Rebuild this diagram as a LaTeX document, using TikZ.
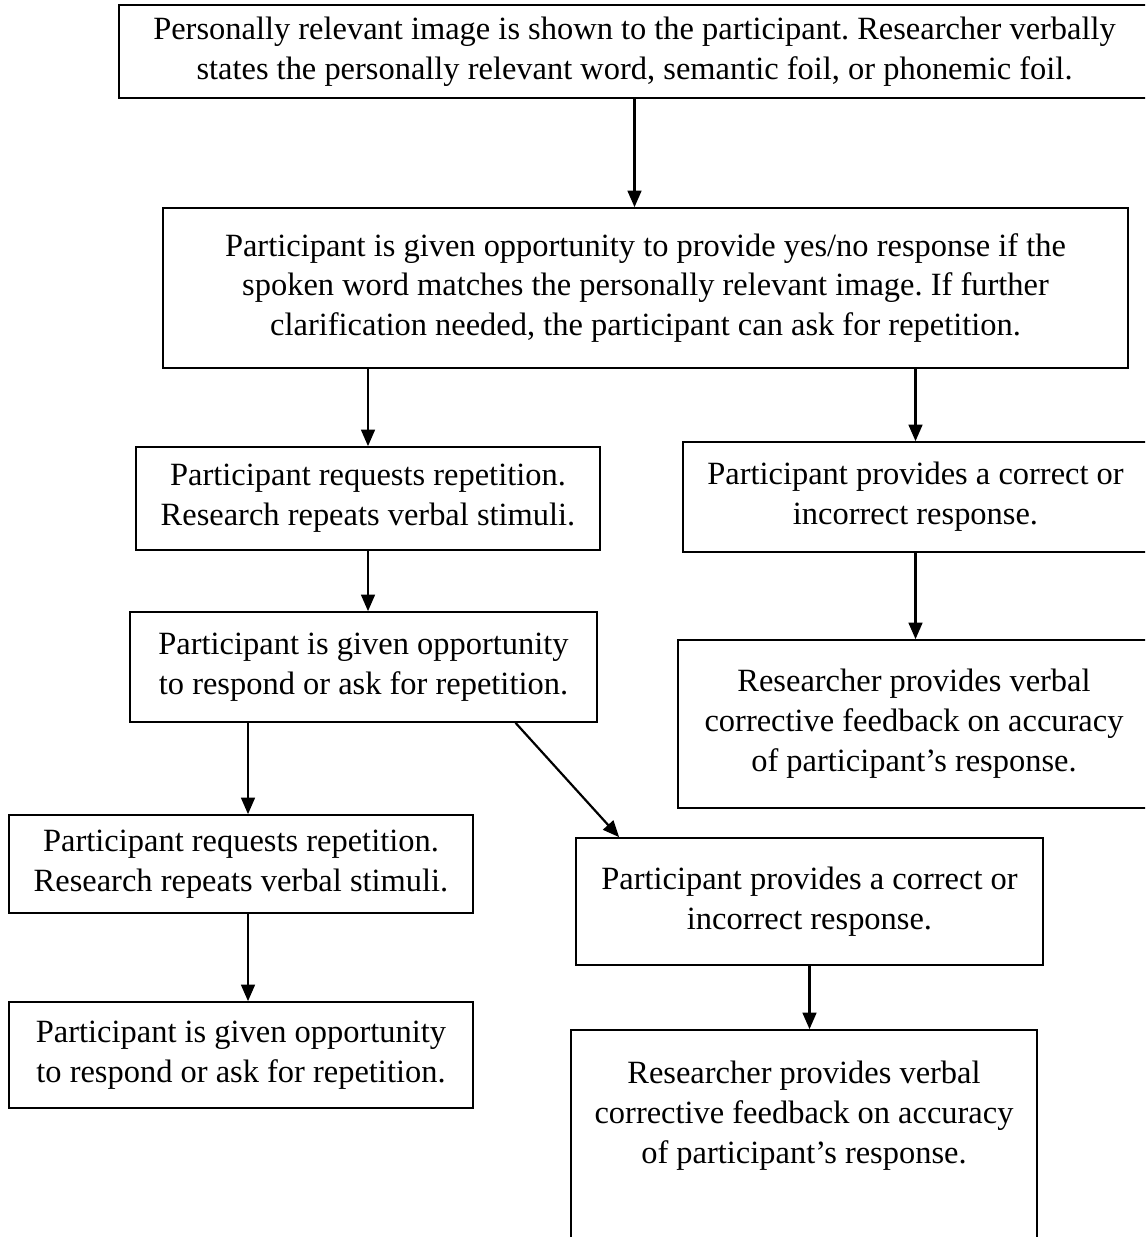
\documentclass[tikz,border=0pt]{standalone}
\usepackage{fontspec}
\setmainfont{Liberation Serif}
\usetikzlibrary{calc}
\usetikzlibrary{arrows.meta}
\newlength{\px}
\setlength{\px}{0.3636pt}

\begin{document}
\begin{tikzpicture}[x=\px,y=\px,semithick,box/.style={rectangle,draw,solid,sharp corners,align=center,inner sep=0pt,font=\fontsize{11.8}{14.5}\selectfont\frenchspacing},wire/.style={draw,thick,-{Triangle[length=6pt,width=5pt]}}]
  \path[clip] (0,0) rectangle (1145,-1237);
  \useasboundingbox (0,0) rectangle (1145,-1237);
  \node[box,minimum width=1031\px,minimum height=93\px] (n1) at (634.5,-51.5) {Personally relevant image is shown to the participant. Researcher verbally\\states the personally relevant word, semantic foil, or phonemic foil.};
  \node[box,minimum width=965\px,minimum height=160\px] (n2) at (645.5,-288) {Participant is given opportunity to provide yes/no response if the\\spoken word matches the personally relevant image.  If further\\clarification needed, the participant can ask for repetition.};
  \node[box,minimum width=464\px,minimum height=103\px] (n3) at (368,-498.5) {Participant requests repetition.\\Research repeats verbal stimuli.};
  \node[box,minimum width=465\px,minimum height=110\px] (n4) at (915.5,-497) {Participant provides a correct or\\incorrect response.};
  \node[box,minimum width=467\px,minimum height=110\px] (n5) at (363.5,-667) {Participant is given opportunity\\to respond or ask for repetition.};
  \node[box,minimum width=472\px,minimum height=168\px] (n6) at (914,-724) {Researcher provides verbal\\corrective feedback on accuracy\\of participant's response.};
  \node[box,minimum width=464\px,minimum height=98\px] (n7) at (241,-864) {Participant requests repetition.\\Research repeats verbal stimuli.};
  \node[box,minimum width=467\px,minimum height=127\px] (n8) at (809.5,-901.5) {Participant provides a correct or\\incorrect response.};
  \node[box,minimum width=464\px,minimum height=106\px] (n9) at (241,-1055) {Participant is given opportunity\\to respond or ask for repetition.};
  \node[box,minimum width=466\px,minimum height=244\px] (n10) at (804,-1152) {Researcher provides verbal\\corrective feedback on accuracy\\of participant's response.\\ \mbox{}\\ \mbox{}};
  \coordinate (c7) at ([xshift=7\px]n7.north);
  \coordinate (c9) at ([xshift=7\px]n9.north);
  \path[wire] (n1.south) -- (n1.south |- n2.north);
  \path[wire] (n3.north |- n2.south) -- (n3.north);
  \path[wire] (n4.north |- n2.south) -- (n4.north);
  \path[wire] (n3.south) -- (n3.south |- n5.north);
  \path[wire] (n4.south) -- (n4.south |- n6.north);
  \path[wire] (c7 |- n5.south) -- (c7);
  \path[wire] ($(n5.south)+(152,0)$) -- ($(n8.north west)+(44,0)$);
  \path[wire] (c9 |- n7.south) -- (c9);
  \path[wire] (n8.south) -- (n8.south |- n10.north);
\end{tikzpicture}
\end{document}
